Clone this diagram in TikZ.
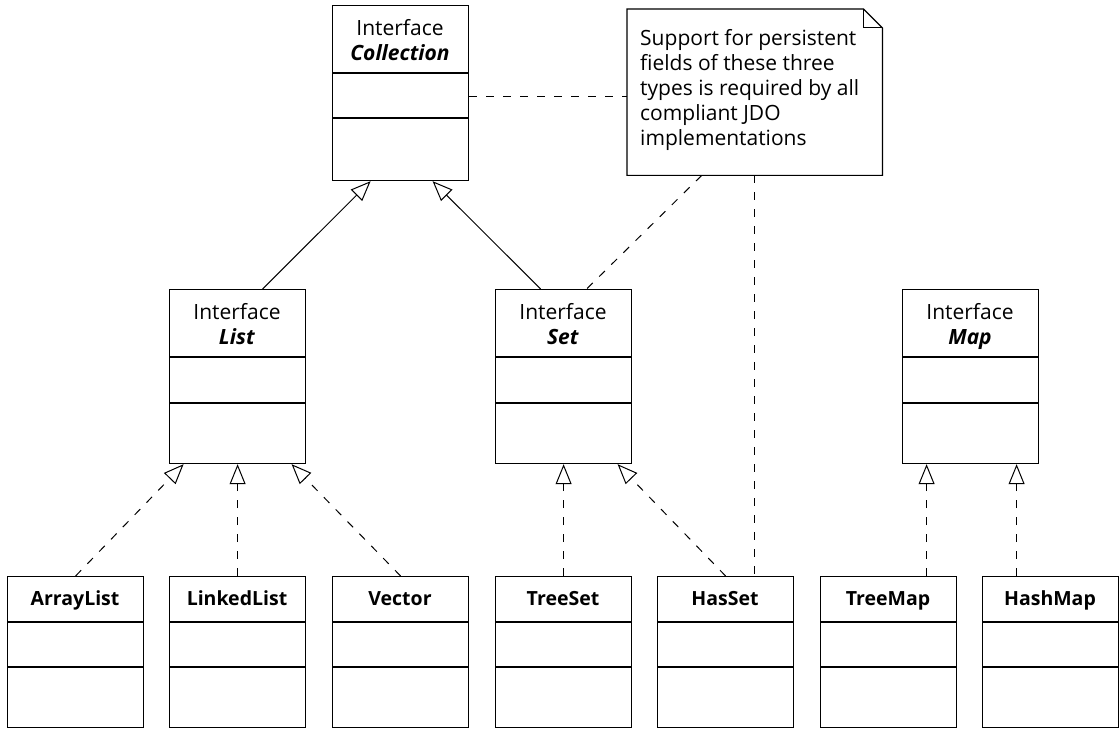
\documentclass[tikz,border=0pt]{standalone}
\usepackage{fontspec}
\setmainfont{Open Sans}
\usetikzlibrary{arrows.meta,calc}
\tikzset{
  cls/.style={draw, line width=1.2pt, fill=white, minimum width=136pt, inner sep=0pt, anchor=north west},
  lbl/.style={font=\fontsize{21}{24.5}\selectfont, align=center, inner sep=0pt, yshift=-4pt},
  clbl/.style={font=\fontsize{19.5}{24}\selectfont\bfseries, align=center, inner sep=0pt, yshift=-2pt},
  gen/.style={line width=1pt, -{Triangle[open, length=20pt, width=16pt, line width=1pt]}},
  real/.style={gen, dash pattern=on 8pt off 9pt},
  anch/.style={line width=1pt, dash pattern=on 8pt off 9pt},
  noteshape/.style={line width=1.2pt, fill=white},
}
\newcommand\umlclass[8]{%
  \node[cls, minimum height=#4+#5+#6] (#1) at (#2,#3) {};
  \node[#8] (#1-name) at (#2+68, #3+#4/2) {#7};
  \draw[line width=1.2pt] (#2, #3+#4) -- (#2+136, #3+#4);
  \draw[line width=1.2pt] (#2, #3+#4+#5) -- (#2+136, #3+#4+#5);
}
\begin{document}
\begin{tikzpicture}[x=1pt, y=-1pt]
\useasboundingbox (0,0) rectangle (1119,730);
% interfaces
\umlclass{coll}{332}{5}{68}{45}{62}{Interface\strut\\\textbf{\textit{Collection}}\strut}{lbl}
\umlclass{list}{169}{289}{68}{46}{60}{Interface\strut\\\textbf{\textit{List}}\strut}{lbl}
\umlclass{set}{495}{289}{68}{46}{60}{Interface\strut\\\textbf{\textit{Set}}\strut}{lbl}
\umlclass{map}{902}{289}{68}{46}{60}{Interface\strut\\\textbf{\textit{Map}}\strut}{lbl}
% classes
\umlclass{arraylist}{7}{576}{46}{45}{60}{ArrayList\strut}{clbl}
\umlclass{linkedlist}{169}{576}{46}{45}{60}{LinkedList\strut}{clbl}
\umlclass{vector}{332}{576}{46}{45}{60}{Vector\strut}{clbl}
\umlclass{treeset}{495}{576}{46}{45}{60}{TreeSet\strut}{clbl}
\umlclass{hasset}{657}{576}{46}{45}{60}{HasSet\strut}{clbl}
\umlclass{treemap}{820}{576}{46}{45}{60}{TreeMap\strut}{clbl}
\umlclass{hashmap}{982}{576}{46}{45}{60}{HashMap\strut}{clbl}
% note
\node[inner sep=0pt, minimum width=255pt, minimum height=166pt, anchor=north west] (note) at (627,9) {};
\draw[noteshape] (note.north west) -- ([xshift=-19pt]note.north east) -- ([yshift=-19pt]note.north east) -- (note.south east) -- (note.south west) -- cycle;
\draw[line width=1pt] ([xshift=-19pt]note.north east) -- ([xshift=-19pt, yshift=-19pt]note.north east) -- ([yshift=-19pt]note.north east);
\node[font=\fontsize{21}{25}\selectfont, align=left, inner sep=0pt, anchor=north west] (notetext) at (640,29)
  {Support for persistent\\fields of these three\\types is required by all\\compliant JDO\\implementations};
% generalizations
\draw[gen] ([xshift=25pt]list.north) -- ([xshift=-30pt]coll.south);
\draw[gen] ([xshift=-23pt]set.north) -- ([xshift=32pt]coll.south);
% realizations
\draw[real] (arraylist.north) -- ([xshift=-54pt]list.south);
\draw[real] (linkedlist.north -| list.south) -- (list.south);
\draw[real] (vector.north) -- ([xshift=54pt]list.south);
\draw[real] (treeset.north -| set.south) -- (set.south);
\draw[real] (hasset.north) -- ([xshift=54pt]set.south);
\draw[real] ([xshift=-44pt]map.south |- treemap.north) -- ([xshift=-44pt]map.south);
\draw[real] ([xshift=46pt]map.south |- hashmap.north) -- ([xshift=46pt]map.south);
% note anchors
\draw[anch] ([yshift=-3pt]coll.east) -- ([yshift=-3pt]coll.east -| note.west);
\draw[anch] ([xshift=-53pt]note.south) -- ([xshift=23pt]set.north);
\draw[anch] (note.south) -- (note.south |- hasset.north);
\end{tikzpicture}
\end{document}
